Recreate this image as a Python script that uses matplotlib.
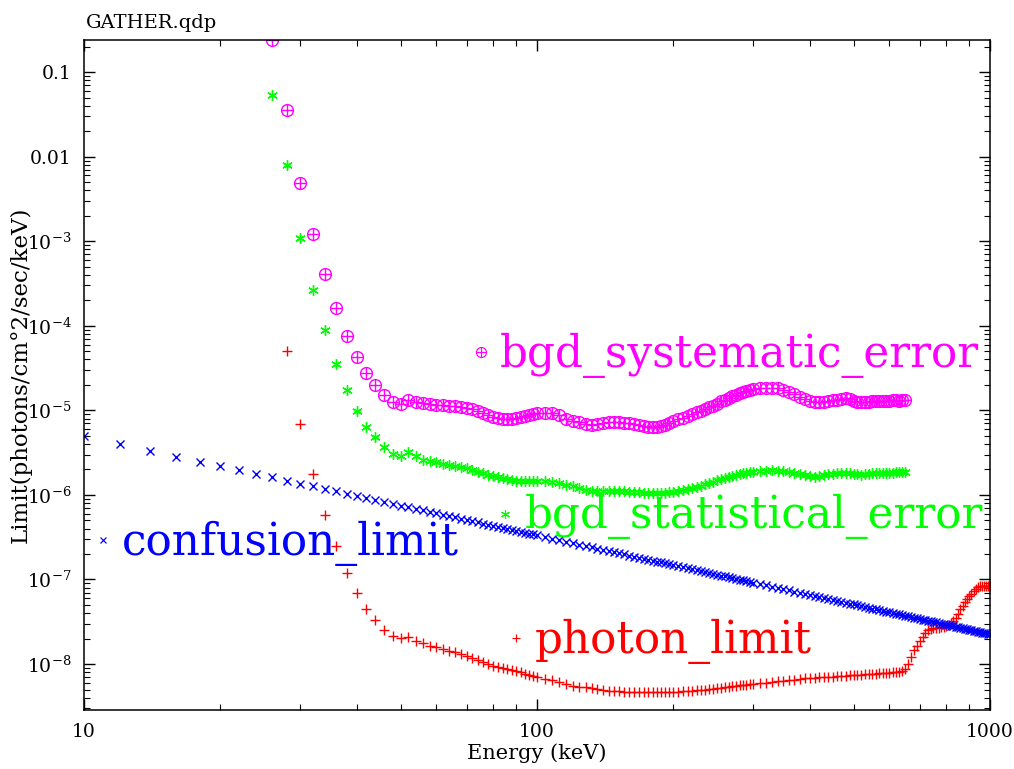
import numpy as np
import matplotlib
matplotlib.use('Agg')
import matplotlib.pyplot as plt
from matplotlib.ticker import LogLocator, FuncFormatter, NullFormatter, FixedLocator

plt.rcParams['font.family'] = ['DejaVu Serif']
plt.rcParams['mathtext.fontset'] = 'dejavuserif'

# energy grid (keV): 2 keV steps up to 100, coarser above
energy = np.concatenate([np.arange(10, 101, 2), np.arange(104, 201, 4),
                         np.arange(205, 301, 5), np.arange(310, 1001, 10)])

confusion_limit = [
    4.91e-6, 3.97e-6, 3.31e-6, 2.83e-6, 2.47e-6, 2.18e-6, 1.95e-6, 1.76e-6, 1.61e-6, 1.47e-6,
    1.36e-6, 1.26e-6, 1.17e-6, 1.10e-6, 1.03e-6, 9.71e-7, 9.17e-7, 8.69e-7, 8.24e-7, 7.85e-7,
    7.48e-7, 7.14e-7, 6.84e-7, 6.55e-7, 6.29e-7, 6.04e-7, 5.82e-7, 5.60e-7, 5.41e-7, 5.22e-7,
    5.05e-7, 4.88e-7, 4.73e-7, 4.58e-7, 4.45e-7, 4.32e-7, 4.20e-7, 4.08e-7, 3.97e-7, 3.86e-7,
    3.76e-7, 3.67e-7, 3.58e-7, 3.49e-7, 3.41e-7, 3.33e-7,
    3.18e-7, 3.04e-7, 2.91e-7, 2.80e-7, 2.69e-7, 2.59e-7, 2.49e-7, 2.40e-7, 2.32e-7, 2.24e-7,
    2.17e-7, 2.10e-7, 2.04e-7, 1.98e-7, 1.92e-7, 1.87e-7, 1.81e-7, 1.76e-7, 1.72e-7, 1.67e-7,
    1.63e-7, 1.59e-7, 1.55e-7, 1.51e-7, 1.48e-7,
    1.44e-7, 1.40e-7, 1.36e-7, 1.32e-7, 1.29e-7, 1.26e-7, 1.23e-7, 1.20e-7, 1.17e-7, 1.14e-7,
    1.11e-7, 1.09e-7, 1.07e-7, 1.04e-7, 1.02e-7, 9.98e-8, 9.78e-8, 9.58e-8, 9.39e-8, 9.21e-8,
    8.86e-8, 8.54e-8, 8.24e-8, 7.96e-8, 7.69e-8, 7.44e-8, 7.21e-8, 6.99e-8, 6.78e-8, 6.58e-8,
    6.39e-8, 6.21e-8, 6.04e-8, 5.88e-8, 5.73e-8, 5.59e-8, 5.45e-8, 5.32e-8, 5.19e-8, 5.07e-8,
    4.95e-8, 4.84e-8, 4.73e-8, 4.63e-8, 4.53e-8, 4.44e-8, 4.35e-8, 4.26e-8, 4.18e-8, 4.10e-8,
    4.02e-8, 3.94e-8, 3.87e-8, 3.80e-8, 3.73e-8, 3.66e-8, 3.60e-8, 3.54e-8, 3.48e-8, 3.42e-8,
    3.36e-8, 3.31e-8, 3.26e-8, 3.20e-8, 3.15e-8, 3.11e-8, 3.06e-8, 3.01e-8, 2.97e-8, 2.92e-8,
    2.88e-8, 2.84e-8, 2.80e-8, 2.76e-8, 2.72e-8, 2.69e-8, 2.65e-8, 2.62e-8, 2.58e-8, 2.55e-8,
    2.52e-8, 2.48e-8, 2.45e-8, 2.42e-8, 2.39e-8, 2.36e-8, 2.34e-8, 2.31e-8, 2.28e-8, 2.25e-8,
]

# starts at 28 keV
photon_limit = [
    5.08e-5, 6.98e-6, 1.75e-6, 5.73e-7, 2.47e-7, 1.18e-7, 6.87e-8, 4.5e-8, 3.3e-8, 2.51e-8,
    2.13e-8, 2.02e-8, 2.10e-8, 1.86e-8, 1.77e-8, 1.65e-8, 1.58e-8, 1.50e-8, 1.44e-8, 1.39e-8,
    1.31e-8, 1.24e-8, 1.17e-8, 1.11e-8, 1.05e-8, 9.9e-9, 9.44e-9, 9.2e-9, 8.95e-9, 8.7e-9,
    8.45e-9, 8.2e-9, 8.0e-9, 7.7e-9, 7.45e-9, 7.2e-9, 7.0e-9,
    6.7e-9, 6.4e-9, 6.15e-9, 5.85e-9, 5.5e-9, 5.4e-9, 5.3e-9, 5.2e-9, 5.05e-9, 4.95e-9,
    4.85e-9, 4.8e-9, 4.75e-9, 4.7e-9, 4.66e-9, 4.65e-9, 4.63e-9, 4.62e-9, 4.62e-9, 4.62e-9,
    4.63e-9, 4.64e-9, 4.65e-9, 4.67e-9, 4.7e-9,
    4.72e-9, 4.75e-9, 4.8e-9, 4.85e-9, 4.9e-9, 4.95e-9, 5.0e-9, 5.05e-9, 5.1e-9, 5.15e-9,
    5.2e-9, 5.3e-9, 5.35e-9, 5.45e-9, 5.5e-9, 5.6e-9, 5.65e-9, 5.7e-9, 5.8e-9, 5.85e-9,
    5.95e-9, 6.05e-9, 6.15e-9, 6.25e-9, 6.35e-9, 6.45e-9, 6.55e-9, 6.65e-9, 6.75e-9, 6.85e-9,
    6.9e-9, 6.95e-9, 7.0e-9, 7.05e-9, 7.1e-9, 7.15e-9, 7.2e-9, 7.3e-9, 7.35e-9, 7.4e-9,
    7.45e-9, 7.5e-9, 7.55e-9, 7.6e-9, 7.65e-9, 7.7e-9, 7.75e-9, 7.8e-9, 7.85e-9, 7.9e-9,
    7.95e-9, 8.0e-9, 8.1e-9, 8.3e-9, 8.8e-9, 1.0e-8, 1.2e-8, 1.45e-8, 1.65e-8, 1.85e-8,
    2.1e-8, 2.35e-8, 2.55e-8, 2.62e-8, 2.66e-8, 2.68e-8, 2.7e-8, 2.73e-8, 2.77e-8, 2.83e-8,
    2.92e-8, 3.05e-8, 3.25e-8, 3.5e-8, 3.9e-8, 4.45e-8, 4.9e-8, 5.4e-8, 5.85e-8, 6.3e-8,
    6.8e-8, 7.3e-8, 7.7e-8, 8.1e-8, 8.3e-8, 8.35e-8, 8.4e-8, 8.4e-8, 8.4e-8, 8.4e-8,
]

# starts at 26 keV, ends at 650 keV
bgd_systematic = [
    0.239, 0.0356, 4.9e-3, 1.22e-3, 4.12e-4, 1.64e-4, 7.6e-5, 4.3e-5, 2.8e-5, 2.02e-5,
    1.54e-5, 1.27e-5, 1.20e-5, 1.33e-5, 1.27e-5, 1.22e-5, 1.19e-5, 1.17e-5, 1.16e-5, 1.14e-5,
    1.12e-5, 1.10e-5, 1.08e-5, 1.03e-5, 9.7e-6, 9.2e-6, 8.8e-6, 8.45e-6, 8.2e-6, 8.0e-6,
    7.9e-6, 7.9e-6, 8.1e-6, 8.3e-6, 8.6e-6, 8.8e-6, 9.0e-6, 9.2e-6,
    9.4e-6, 9.3e-6, 8.7e-6, 8.0e-6, 7.5e-6, 7.2e-6, 6.9e-6, 6.8e-6, 6.9e-6, 7.1e-6,
    7.2e-6, 7.2e-6, 7.2e-6, 7.1e-6, 7.0e-6, 6.9e-6, 6.7e-6, 6.5e-6, 6.4e-6, 6.4e-6,
    6.4e-6, 6.5e-6, 6.7e-6, 7.0e-6, 7.4e-6,
    7.8e-6, 8.2e-6, 8.6e-6, 9.0e-6, 9.5e-6, 9.9e-6, 1.04e-5, 1.09e-5, 1.14e-5, 1.2e-5,
    1.28e-5, 1.34e-5, 1.40e-5, 1.47e-5, 1.53e-5, 1.60e-5, 1.65e-5, 1.70e-5, 1.74e-5, 1.78e-5,
    1.84e-5, 1.86e-5, 1.86e-5, 1.84e-5, 1.76e-5, 1.66e-5, 1.56e-5, 1.45e-5, 1.36e-5, 1.30e-5,
    1.26e-5, 1.24e-5, 1.25e-5, 1.28e-5, 1.31e-5, 1.34e-5, 1.38e-5, 1.40e-5, 1.36e-5, 1.30e-5,
    1.26e-5, 1.24e-5, 1.25e-5, 1.27e-5, 1.28e-5, 1.30e-5, 1.30e-5, 1.29e-5, 1.28e-5, 1.30e-5,
    1.32e-5, 1.31e-5, 1.30e-5, 1.31e-5, 1.33e-5,
]

# starts at 26 keV, ends at 650 keV
bgd_statistical = [
    0.0535, 7.98e-3, 1.10e-3, 2.67e-4, 9.0e-5, 3.57e-5, 1.76e-5, 9.96e-6, 6.44e-6, 4.78e-6,
    3.64e-6, 3.01e-6, 2.85e-6, 3.18e-6, 2.85e-6, 2.62e-6, 2.49e-6, 2.43e-6, 2.34e-6, 2.26e-6,
    2.20e-6, 2.12e-6, 2.06e-6, 1.97e-6, 1.89e-6, 1.81e-6, 1.73e-6, 1.67e-6, 1.62e-6, 1.57e-6,
    1.54e-6, 1.51e-6, 1.48e-6, 1.48e-6, 1.48e-6, 1.48e-6, 1.48e-6, 1.47e-6,
    1.45e-6, 1.41e-6, 1.37e-6, 1.32e-6, 1.26e-6, 1.20e-6, 1.14e-6, 1.11e-6, 1.10e-6, 1.10e-6,
    1.10e-6, 1.10e-6, 1.10e-6, 1.10e-6, 1.09e-6, 1.08e-6, 1.07e-6, 1.06e-6, 1.05e-6, 1.04e-6,
    1.04e-6, 1.04e-6, 1.05e-6, 1.07e-6, 1.09e-6,
    1.11e-6, 1.14e-6, 1.18e-6, 1.21e-6, 1.25e-6, 1.28e-6, 1.33e-6, 1.38e-6, 1.43e-6, 1.49e-6,
    1.54e-6, 1.59e-6, 1.64e-6, 1.69e-6, 1.74e-6, 1.78e-6, 1.81e-6, 1.84e-6, 1.86e-6, 1.88e-6,
    1.90e-6, 1.93e-6, 1.95e-6, 1.94e-6, 1.91e-6, 1.87e-6, 1.82e-6, 1.75e-6, 1.70e-6, 1.66e-6,
    1.65e-6, 1.68e-6, 1.72e-6, 1.75e-6, 1.78e-6, 1.80e-6, 1.82e-6, 1.84e-6, 1.82e-6, 1.78e-6,
    1.75e-6, 1.74e-6, 1.76e-6, 1.78e-6, 1.80e-6, 1.82e-6, 1.84e-6, 1.84e-6, 1.83e-6, 1.83e-6,
    1.84e-6, 1.85e-6, 1.86e-6, 1.87e-6, 1.89e-6,
]

y_major = [1e-8, 1e-7, 1e-6, 1e-5, 1e-4, 1e-3, 1e-2, 1e-1]


def series_energy(start_kev, values):
    e = energy[energy >= start_kev]
    return e[:len(values)]


def y_label_fmt(v, pos):
    e = int(round(np.log10(v)))
    if e == -1:
        return '0.1'
    if e == -2:
        return '0.01'
    return r'$10^{%d}$' % e


fig = plt.figure(figsize=(10.14, 7.69), dpi=100)
ax = fig.add_axes([0.0828, 0.0767, 0.8935, 0.8713])

# marker styles per series: (markers, size, colour)
styles = {
    'photon_limit': (['+'], 7, '#ff0000'),
    'confusion_limit': (['x'], 5.5, '#0000ff'),
    'bgd_statistical_error': ([(6, 2, 0)], 7.5, '#00ff00'),
    'bgd_systematic_error': (['o', '+'], 8.5, '#ff00ff'),
}
series = [
    ('photon_limit', series_energy(28, photon_limit), photon_limit),
    ('confusion_limit', series_energy(10, confusion_limit), confusion_limit),
    ('bgd_statistical_error', series_energy(26, bgd_statistical), bgd_statistical),
    ('bgd_systematic_error', series_energy(26, bgd_systematic), bgd_systematic),
]
for name, x, y in series:
    markers, ms, col = styles[name]
    for m in markers:
        ax.plot(x, y, ls='none', marker=m, ms=ms, mew=1.0, mfc='none', color=col)

ax.set_xscale('log')
ax.set_yscale('log')
ax.set_xlim(10, 1000)
ax.set_ylim(2.86e-9, 0.24)

ax.xaxis.set_major_locator(FixedLocator([10, 100, 1000]))
ax.xaxis.set_minor_locator(LogLocator(base=10, subs=range(2, 10)))
ax.xaxis.set_major_formatter(FuncFormatter(lambda v, pos: '%g' % v))
ax.xaxis.set_minor_formatter(NullFormatter())
ax.yaxis.set_major_locator(FixedLocator(y_major))
ax.yaxis.set_minor_locator(LogLocator(base=10, subs=range(2, 10), numticks=20))
ax.yaxis.set_major_formatter(FuncFormatter(y_label_fmt))
ax.yaxis.set_minor_formatter(NullFormatter())

ax.tick_params(which='both', direction='in', top=True, right=True, labelsize=13.5)
ax.tick_params(which='major', length=8, width=1.0, pad=9)
ax.tick_params(which='minor', length=4, width=0.8)
for s in ax.spines.values():
    s.set_linewidth(1.1)

ax.set_xlabel('Energy (keV)', fontsize=15, labelpad=2)
ax.set_ylabel('Limit(photons/cm°2/sec/keV)', fontsize=16.5)
ax.yaxis.set_label_coords(-0.058, 0.5)

ax.text(0.002, 1.018, 'GATHER.qdp', transform=ax.transAxes, fontsize=14, va='baseline')

# in-plot labels with their marker keys (axes fraction positions)
keys = [
    (0.438, 0.534, 'bgd_systematic_error'),
    (0.465, 0.293, 'bgd_statistical_error'),
    (0.021, 0.254, 'confusion_limit'),
    (0.477, 0.107, 'photon_limit'),
]
for kx, ky, label in keys:
    markers, ms, col = styles[label]
    for m in markers:
        ax.plot([kx], [ky], transform=ax.transAxes, ls='none', marker=m,
                ms=ms * 0.85, mew=0.85, mfc='none', color=col, clip_on=False)
    ax.text(kx + 0.021, ky - 0.022, label, transform=ax.transAxes, fontsize=31.5,
            color=col, va='baseline', ha='left')

fig.savefig('out.png', dpi=100)
